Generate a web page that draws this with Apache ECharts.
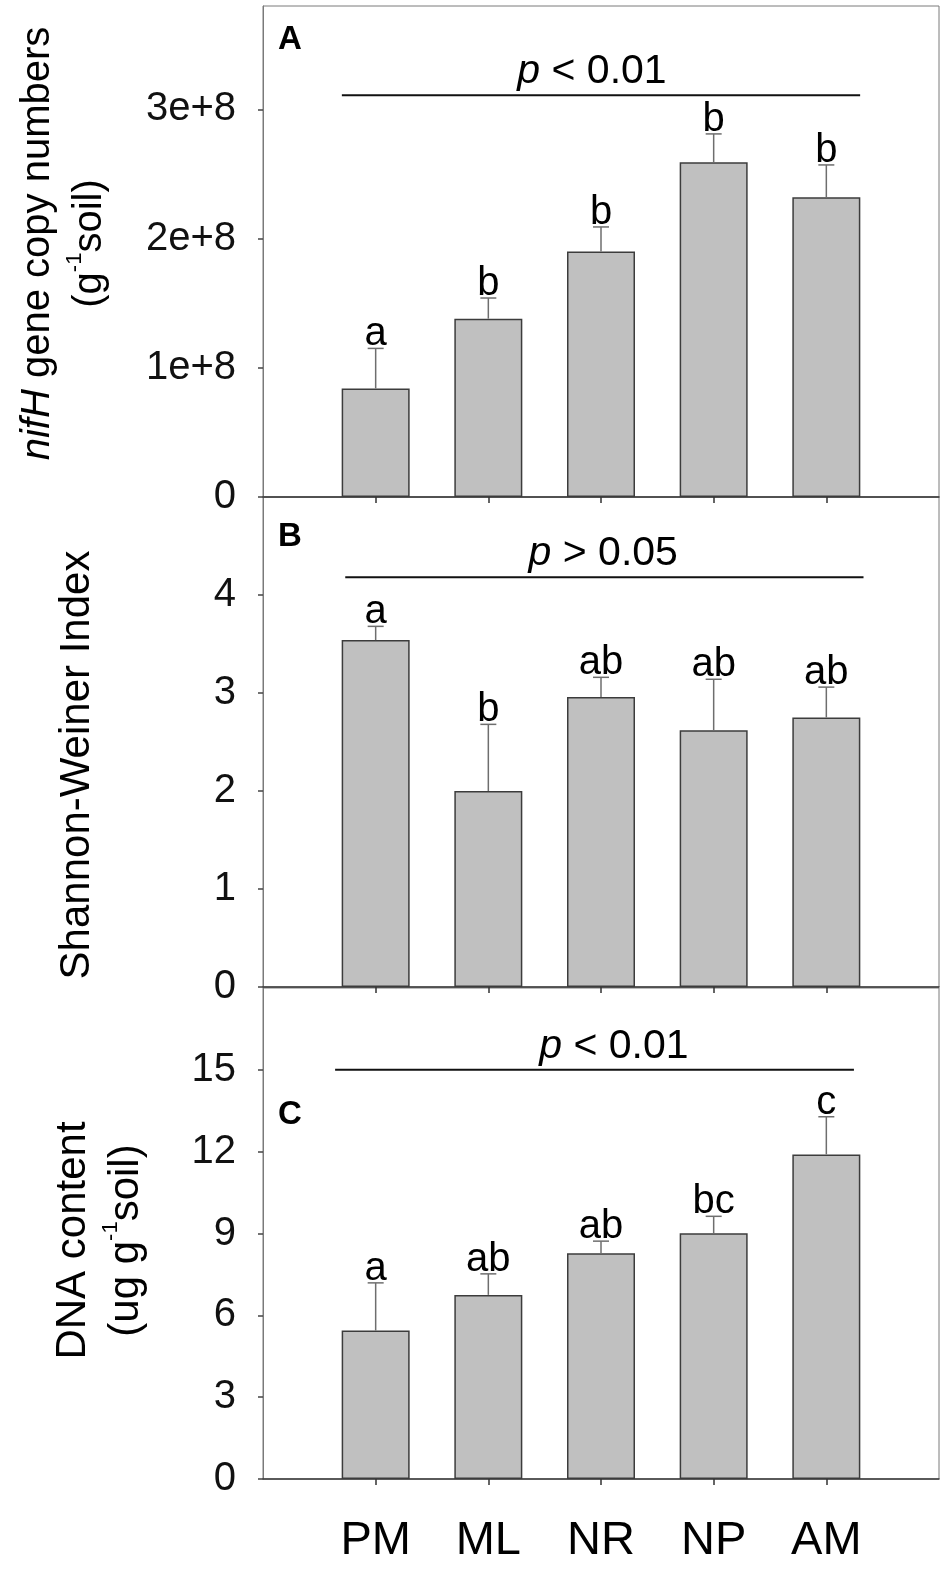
<!DOCTYPE html>
<html>
<head>
<meta charset="utf-8">
<title>nifH / Shannon / DNA</title>
<script src="https://cdn.jsdelivr.net/npm/echarts@6/dist/echarts.min.js"></script>
<style>
  html, body { margin: 0; padding: 0; background: #fff; }
  #chart { width: 950px; height: 1573px; }
</style>
</head>
<body>
<div id="chart"></div>
<script>
// sites, drawn at x = 1..5 on a 0..6 axis
var sites = ['PM', 'ML', 'NR', 'NP', 'AM'];
var sitePos = [1, 2, 3, 4, 5];

// panel A: nifH copies per g soil
var nifhMean = [0.84e8, 1.38e8, 1.90e8, 2.59e8, 2.32e8];
var nifhErr = [0.31e8, 0.16e8, 0.19e8, 0.22e8, 0.25e8];
var nifhLetters = ['a', 'b', 'b', 'b', 'b'];
var nifhTicks = [0, 1e8, 2e8, 3e8];
var nifhTickLabels = ['0', '1e+8', '2e+8', '3e+8'];

// panel B: Shannon-Weiner index
var shannonMean = [3.54, 2.00, 2.96, 2.62, 2.75];
var shannonErr = [0.14, 0.68, 0.20, 0.52, 0.31];
var shannonLetters = ['a', 'b', 'ab', 'ab', 'ab'];
var shannonTicks = [0, 1, 2, 3, 4];

// panel C: DNA content
var dnaMean = [5.44, 6.75, 8.28, 9.01, 11.9];
var dnaErr = [1.75, 0.77, 0.44, 0.62, 1.38];
var dnaLetters = ['a', 'ab', 'ab', 'bc', 'c'];
var dnaTicks = [0, 3, 6, 9, 12, 15];

// significance lines: [from, to, y, text x] per panel
var sigA = [[0.70, 5.30, 3.11e8, 2.92]];
var sigB = [[0.73, 5.33, 4.18, 3.02]];
var sigC = [[0.64, 5.245, 15.0, 3.115]];
var sigText = ['<', '>', '<'];
var sigValue = ['0.01', '0.05', '0.01'];

var FONT = "'Liberation Sans', Arial, Helvetica, sans-serif";
var myChart = echarts.init(document.getElementById('chart'));

function pairs(xs, ys) {
	var out = [];
	for (var i = 0; i < xs.length; i++) out.push([xs[i], ys[i]]);
	return out;
}
function triples(xs, ys, es) {
	var out = [];
	for (var i = 0; i < xs.length; i++) out.push([xs[i], ys[i], es[i]]);
	return out;
}

// error bar + letter above
function errRenderer(letters) {
	return function (params, api) {
		var x = api.value(0), m = api.value(1), e = api.value(2);
		var base = api.coord([x, m]);
		var top = api.coord([x, m + e]);
		var cap = 8;
		var ln = { stroke: '#6e6e6e', lineWidth: 1.5 };
		return {
			type: 'group',
			children: [
				{ type: 'line', shape: { x1: base[0], y1: base[1], x2: top[0], y2: top[1] }, style: ln },
				{ type: 'line', shape: { x1: top[0] - cap, y1: top[1], x2: top[0] + cap, y2: top[1] }, style: ln },
				{ type: 'text', x: top[0], y: top[1] + 6,
				  style: { text: letters[params.dataIndex], fill: '#000', fontSize: 40, fontFamily: FONT,
				           align: 'center', verticalAlign: 'bottom' } }
			]
		};
	};
}

// p-value line and text
function sigRenderer(k) {
	return function (params, api) {
		var a = api.coord([api.value(0), api.value(2)]);
		var b = api.coord([api.value(1), api.value(2)]);
		var t = api.coord([api.value(3), api.value(2)]);
		return {
			type: 'group',
			children: [
				{ type: 'line', shape: { x1: a[0], y1: a[1], x2: b[0], y2: b[1] },
				  style: { stroke: '#111', lineWidth: 2 } },
				{ type: 'text', x: t[0], y: t[1] - 3,
				  style: { text: '{i|p} ' + sigText[k] + ' ' + sigValue[k], fill: '#000',
				           fontSize: 41, fontFamily: FONT, align: 'center', verticalAlign: 'bottom',
				           rich: { i: { fontStyle: 'italic', fontSize: 41, fontFamily: FONT } } } }
			]
		};
	};
}

var grids = [
	{ left: 263, right: 11, top: 6, height: 491 },
	{ left: 263, right: 11, top: 497, height: 490 },
	{ left: 263, right: 11, top: 988, height: 491 }
];
grids.forEach(function (g) {
	g.show = true;
	g.borderColor = '#7a7a7a';
	g.borderWidth = 1;
	g.backgroundColor = 'transparent';
	g.outerBoundsMode = 'none';
});

function xAxisFor(i, showLabel) {
	return {
		type: 'value', gridIndex: i, min: 0, max: 6,
		splitLine: { show: false },
		axisLine: { show: true, lineStyle: { color: '#3a3a3a', width: 1.5 } },
		axisTick: { show: true, inside: false, length: 6, customValues: sitePos,
		            lineStyle: { color: '#333', width: 1.5 } },
		axisLabel: { show: showLabel, customValues: sitePos, margin: 39,
		             fontSize: 47, fontFamily: FONT, color: '#000',
		             formatter: function (v) { return sites[v - 1] || ''; } }
	};
}

function yAxisFor(i, max, ticks, fmt, name, nameGap, pad) {
	return {
		type: 'value', gridIndex: i, min: 0, max: max,
		splitLine: { show: false },
		axisLine: { show: true, lineStyle: { color: '#7a7a7a' } },
		axisTick: { show: true, inside: false, length: 5, customValues: ticks,
		            lineStyle: { color: '#444', width: 1.5 } },
		axisLabel: { customValues: ticks, margin: 27, fontSize: 40, fontFamily: FONT,
		             color: '#111', formatter: fmt },
		name: name,
		nameLocation: 'middle',
		nameRotate: 90,
		nameGap: nameGap,
		nameMoveOverlap: false,
		nameTextStyle: {
			color: '#000', fontFamily: FONT, fontSize: 40, lineHeight: 52,
			padding: pad,
			rich: {
				it: { fontStyle: 'italic', fontSize: 40, lineHeight: 52, fontFamily: FONT, color: '#000' },
				n: { fontSize: 40, lineHeight: 52, fontFamily: FONT, color: '#000' },
				n2: { fontSize: 42, lineHeight: 53, fontFamily: FONT, color: '#000' },
				sup: { fontSize: 22, lineHeight: 22, verticalAlign: 'top', fontFamily: FONT, color: '#000' },
				big: { fontSize: 42, lineHeight: 44, fontFamily: FONT, color: '#000' }
			}
		}
	};
}

function barSeries(i, means) {
	return {
		type: 'bar', xAxisIndex: i, yAxisIndex: i,
		data: pairs(sitePos, means),
		barWidth: 68,
		itemStyle: { color: '#c0c0c0', borderColor: '#3c3c3c', borderWidth: 1.5 },
		silent: true
	};
}
function errSeries(i, means, errs, letters) {
	return {
		type: 'custom', xAxisIndex: i, yAxisIndex: i, z: 3,
		data: triples(sitePos, means, errs),
		renderItem: errRenderer(letters),
		silent: true
	};
}
function sigSeries(i, lines, k) {
	return {
		type: 'custom', xAxisIndex: i, yAxisIndex: i, z: 3,
		data: lines,
		renderItem: sigRenderer(k),
		silent: true
	};
}

function panelLetter(txt, top) {
	return { type: 'text', left: 278, top: top,
	         style: { text: txt, fontSize: 33, fontWeight: 'bold', fontFamily: FONT, fill: '#000' } };
}

option = {
	animation: false,
	backgroundColor: '#fff',
	grid: grids,
	xAxis: [xAxisFor(0, false), xAxisFor(1, false), xAxisFor(2, true)],
	yAxis: [
		yAxisFor(0, 3.8e8, nifhTicks, function (v) {
			return nifhTickLabels[nifhTicks.indexOf(v)];
		}, '{it|nifH}{n| gene copy numbers}\n{n|(g}{sup|-1}{n|soil)}', 147, [0, 0, 0, 16]),
		yAxisFor(1, 5, shannonTicks, null, '{big|Shannon-Weiner Index}', 164, [0, 46, 0, 0]),
		yAxisFor(2, 18, dnaTicks, null, '{n2|DNA content}\n{n2|(ug g}{sup|-1}{n2|soil)}', 110, [0, 14, 0, 0])
	],
	graphic: [
		panelLetter('A', 23),
		panelLetter('B', 520),
		panelLetter('C', 1098)
	],
	series: [
		barSeries(0, nifhMean), errSeries(0, nifhMean, nifhErr, nifhLetters), sigSeries(0, sigA, 0),
		barSeries(1, shannonMean), errSeries(1, shannonMean, shannonErr, shannonLetters), sigSeries(1, sigB, 1),
		barSeries(2, dnaMean), errSeries(2, dnaMean, dnaErr, dnaLetters), sigSeries(2, sigC, 2)
	]
};
myChart.setOption(option);
</script>
</body>
</html>
